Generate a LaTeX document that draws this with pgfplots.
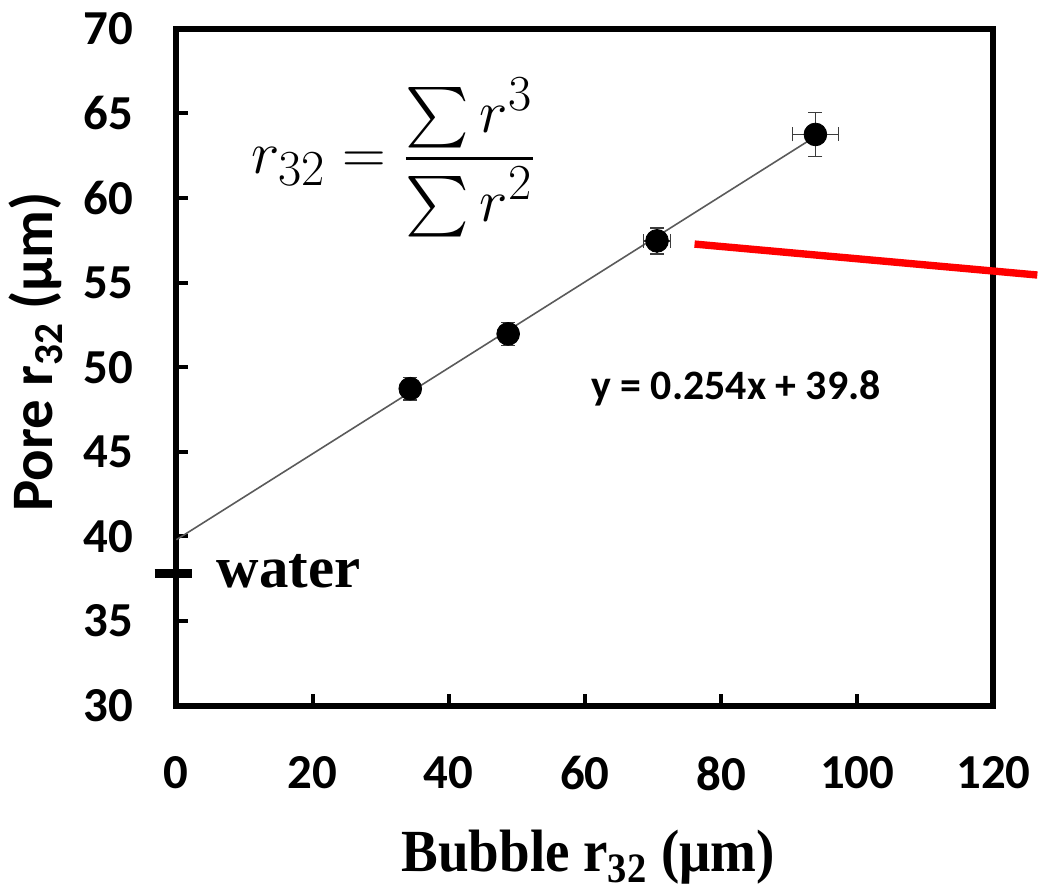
\documentclass[border=0pt]{standalone}
\usepackage{amsmath}
\usepackage{pgfplots}
\pgfplotsset{compat=1.18}
\usepackage{fontspec}
\setmainfont{Carlito}
\newfontfamily\timesf{Liberation Serif}
\definecolor{errgray}{RGB}{60,60,60}
\definecolor{trendgray}{RGB}{90,90,90}
\begin{document}
\begin{tikzpicture}
\begin{axis}[
  scale only axis,
  width=410pt, height=339.5pt,
  xmin=0, xmax=120, ymin=30, ymax=70,
  xtick={0,20,...,120}, ytick={30,35,...,70},
  axis line style={line width=3pt},
  tick style={line width=2pt, black},
  major tick length=6pt,
  tick align=inside,
  xtick pos=bottom, ytick pos=left,
  /pgf/number format/assume math mode=true,
  ticklabel style={font=\fontsize{24.5}{28}\selectfont\bfseries},
  yticklabel style={xshift=-18pt},
  xticklabel style={yshift=-22pt},
  clip=false,
  ylabel={Pore r\textsubscript{32} (μm)},
  every axis y label/.style={at={(axis description cs:-0.1512,0.523)}, rotate=90, anchor=base, font=\fontsize{29.5}{34}\selectfont\bfseries},
  xlabel={\scalebox{0.92}[1]{\timesf Bubble r\textsubscript{32} (μm)}},
  every axis x label/.style={at={(axis description cs:0.504,-0.246)}, anchor=base, font=\fontsize{30}{34}\selectfont\bfseries},
]
% bounding box of the full picture
\path (axis cs:-25.9,19.51) rectangle (axis cs:126.44,71.71);
% trendline
\addplot[trendgray, line width=0.8pt, no marks] coordinates {(0,39.8) (93.85,63.64)};
% data with error bars
\addplot[only marks, mark=*, mark size=5.7pt, black, fill=black,
  error bars/.cd, x dir=both, y dir=both, x explicit, y explicit,
  error bar style={errgray, line width=0.7pt},
  error mark options={rotate=90, mark size=3.5pt, line width=0.7pt, errgray}]
  coordinates {
  (34.35,48.73) +- (0.8,0.66)
  (48.73,51.97) +- (0.8,0.69)
  (70.59,57.47) +- (1.98,0.77)
  (93.85,63.76) +- (3.4,1.31)
  };
% red annotation line
\draw[red, line width=3.7pt] (axis cs:76.1,57.28) -- (axis cs:126.44,55.45);
% water marker
\draw[black, line width=4.5pt] (axis cs:-3.2,37.8) -- (axis cs:2.34,37.8);
\node[anchor=base west, inner sep=0pt, font=\timesf\fontsize{29.5}{34}\selectfont\bfseries] at (axis cs:5.85,36.95) {water};
% equation
\node[anchor=center, font=\fontsize{21}{25}\selectfont\bfseries] at (axis cs:82.2,48.73) {y = 0.254x + 39.8};
% formula
\node[anchor=center, inner sep=0pt, font=\fontsize{24.88}{30}\selectfont] at (axis cs:31.9,62.4) {\scalebox{1.22}{$r_{32} = \dfrac{\textstyle\sum r^3}{\textstyle\sum r^2}$}};
\end{axis}
\end{tikzpicture}
\end{document}
